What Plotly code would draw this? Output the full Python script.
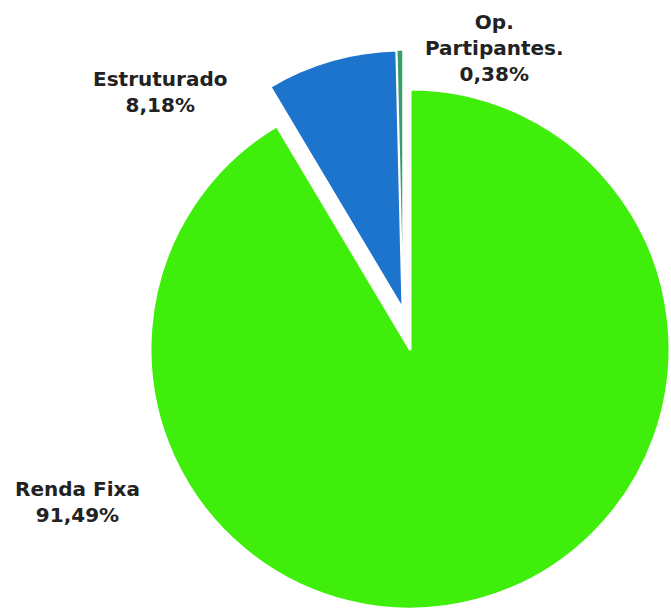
import plotly.graph_objects as go

labels = ["Renda Fixa", "Estruturado", "Op. Partipantes."]
values = [91.49, 8.18, 0.38]
label_lines = [["Renda Fixa"], ["Estruturado"], ["Op.", "Partipantes."]]
colors = ["#3FEF0B", "#1C74CC", "#3A9E6C"]

W, H = 671, 615

def dom(cx, cy, r):
    return dict(x=[(cx - r) / W, (cx + r) / W], y=[1 - (cy + r) / H, 1 - (cy - r) / H])

# base pie: only the large slice visible
fig = go.Figure()
fig.add_trace(go.Pie(
    labels=labels, values=values, sort=False, direction="clockwise", rotation=0,
    marker=dict(colors=[colors[0], "rgba(0,0,0,0)", "rgba(0,0,0,0)"],
                line=dict(color="white", width=[3, 0, 0])),
    textinfo="none", hoverinfo="label+percent", showlegend=False,
    domain=dom(410, 349, 260),
))
# exploded slices
fig.add_trace(go.Pie(
    labels=labels, values=values, sort=False, direction="clockwise", rotation=0,
    marker=dict(colors=["rgba(0,0,0,0)", colors[1], colors[2]],
                line=dict(color="white", width=[0, 3, 1.5])),
    textinfo="none", hoverinfo="label+percent", showlegend=False,
    domain=dom(403, 310, 260),
))

def fmt(v):
    return f"{v:.2f}".replace(".", ",") + "%"

label_pos = [(77, 502), (160, 92), (494, 48)]
for lines, v, (px, py) in zip(label_lines, values, label_pos):
    fig.add_annotation(
        text="<br>".join(lines + [fmt(v)]), x=px / W, y=1 - py / H,
        xref="paper", yref="paper", xanchor="center", yanchor="middle",
        showarrow=False, align="center",
        font=dict(family="DejaVu Sans", size=20, color="#222222", weight="bold"),
    )

fig.update_layout(width=W, height=H, margin=dict(l=0, r=0, t=0, b=0),
                  paper_bgcolor="white", plot_bgcolor="white")
fig.write_html("out.html", config={"displayModeBar": False},
               post_script="document.body.style.margin='0';")
